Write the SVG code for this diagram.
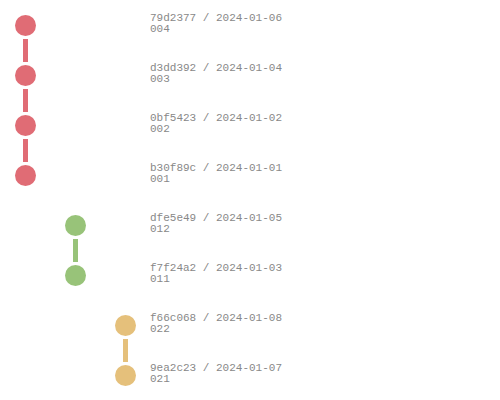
<svg xmlns="http://www.w3.org/2000/svg" width="500" height="400" viewBox="0 0 500 400">
<style>
.t{font-family:"Liberation Mono","DejaVu Sans Mono",monospace;font-size:11px;fill:#888}
.red{fill:#e06c75}.green{fill:#98c379}.yellow{fill:#e5c07b}
.lr{stroke:#e06c75;stroke-width:5}.lg{stroke:#98c379;stroke-width:5}.ly{stroke:#e5c07b;stroke-width:5}
</style>
<rect width="500" height="400" fill="#fff"/>
<g id="connectors">
<line class="lr" x1="25.5" y1="39" x2="25.5" y2="62"/>
<line class="lr" x1="25.5" y1="89" x2="25.5" y2="112"/>
<line class="lr" x1="25.5" y1="139" x2="25.5" y2="162"/>
<line class="lg" x1="75.5" y1="239" x2="75.5" y2="262"/>
<line class="ly" x1="125.5" y1="339" x2="125.5" y2="362"/>
</g>
<g id="n004"><circle class="red" cx="25.5" cy="25.5" r="10.5"/><text class="t" x="150" y="21">79d2377 / 2024-01-06</text><text class="t" x="150" y="31.5">004</text></g>
<g id="n003"><circle class="red" cx="25.5" cy="75.5" r="10.5"/><text class="t" x="150" y="71">d3dd392 / 2024-01-04</text><text class="t" x="150" y="81.5">003</text></g>
<g id="n002"><circle class="red" cx="25.5" cy="125.5" r="10.5"/><text class="t" x="150" y="121">0bf5423 / 2024-01-02</text><text class="t" x="150" y="131.5">002</text></g>
<g id="n001"><circle class="red" cx="25.5" cy="175.5" r="10.5"/><text class="t" x="150" y="171">b30f89c / 2024-01-01</text><text class="t" x="150" y="181.5">001</text></g>
<g id="n012"><circle class="green" cx="75.5" cy="225.5" r="10.5"/><text class="t" x="150" y="221">dfe5e49 / 2024-01-05</text><text class="t" x="150" y="231.5">012</text></g>
<g id="n011"><circle class="green" cx="75.5" cy="275.5" r="10.5"/><text class="t" x="150" y="271">f7f24a2 / 2024-01-03</text><text class="t" x="150" y="281.5">011</text></g>
<g id="n022"><circle class="yellow" cx="125.5" cy="325.5" r="10.5"/><text class="t" x="150" y="321">f66c068 / 2024-01-08</text><text class="t" x="150" y="331.5">022</text></g>
<g id="n021"><circle class="yellow" cx="125.5" cy="375.5" r="10.5"/><text class="t" x="150" y="371">9ea2c23 / 2024-01-07</text><text class="t" x="150" y="381.5">021</text></g>
</svg>
